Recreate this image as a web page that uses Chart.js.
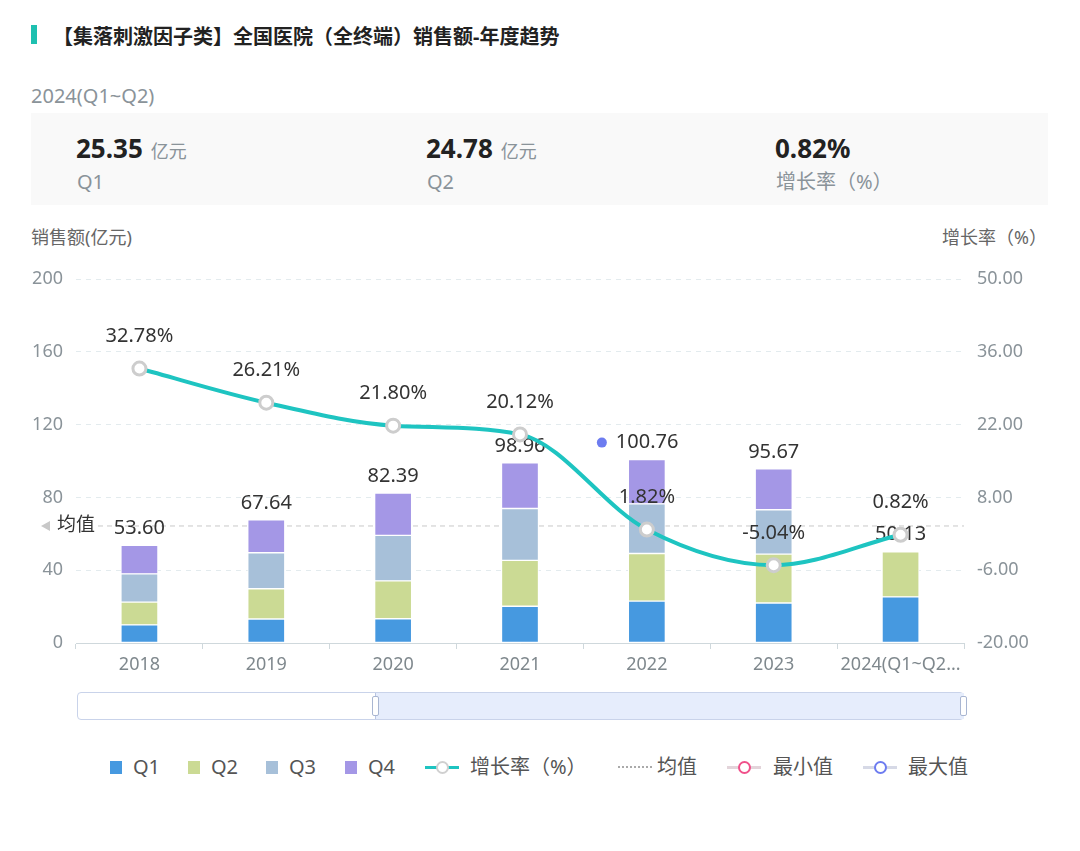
<!DOCTYPE html>
<html>
<head>
<meta charset="utf-8">
<script src="https://cdn.jsdelivr.net/npm/chart.js@4"></script>
<style>
  body { margin: 0; background: #fff; font-family: "Noto Sans", "Noto Sans CJK SC", sans-serif; }
  #page { position: relative; width: 1080px; height: 851px; overflow: hidden; }
  .abs { position: absolute; white-space: nowrap; }
  .grey { color: #8a9399; }
  .big { font-size: 26px; font-weight: bold; color: #222; }
  .unit { font-size: 18px; color: #8a9399; margin-left: 8px; font-weight: normal; }
  .lbl { font-size: 20px; line-height: 26px; color: #8a9399; }
  .lg { position: absolute; top: 754px; height: 26px; line-height: 26px; font-size: 20px; color: #555; white-space: nowrap; }
  .sq { position: absolute; top: 7px; width: 12px; height: 13px; }
  .ln { position: absolute; top: 12px; width: 34px; height: 3px; }
  .dot { position: absolute; top: 7px; left: 11px; width: 9px; height: 9px; border-radius: 50%; background: #fff; border: 2px solid; }
</style>
</head>
<body>
<div id="page">
  <div class="abs" style="left:31px;top:25px;width:6px;height:19px;background:#1ec0b0;"></div>
  <div class="abs" style="left:53px;top:23px;font-size:20px;line-height:28px;font-weight:bold;color:#222;">【集落刺激因子类】全国医院（全终端）销售额-年度趋势</div>
  <div class="abs grey" style="left:31px;top:82px;font-size:20px;line-height:28px;">2024(Q1~Q2)</div>

  <div class="abs" style="left:31px;top:113px;width:1017px;height:92px;background:#f9f9f9;"></div>
  <div class="abs big" style="left:76px;top:130px;line-height:36px;">25.35<span class="unit">亿元</span></div>
  <div class="abs lbl" style="left:77px;top:169px;">Q1</div>
  <div class="abs big" style="left:426px;top:130px;line-height:36px;">24.78<span class="unit">亿元</span></div>
  <div class="abs lbl" style="left:427px;top:169px;">Q2</div>
  <div class="abs big" style="left:775px;top:130px;line-height:36px;">0.82%</div>
  <div class="abs lbl" style="left:776px;top:169px;">增长率（%）</div>

  <div class="abs" style="left:31px;top:224px;font-size:18px;line-height:26px;color:#666;">销售额(亿元)</div>
  <div class="abs" style="right:33px;top:224px;font-size:18px;line-height:26px;color:#666;">增长率（%）</div>

  <canvas id="chart" class="abs" style="left:0;top:250px;" width="1080" height="440"></canvas>

  <!-- zoom slider -->
  <div class="abs" style="left:77px;top:692px;width:885px;height:26px;border:1px solid #c9d3ea;border-radius:4px;background:#fff;"></div>
  <div class="abs" style="left:375px;top:693px;width:588px;height:26px;background:#e6edfc;border-left:1px solid #b9c5e2;"></div>
  <div class="abs" style="left:372px;top:696px;width:5px;height:18px;border:1px solid #a9b6d2;border-radius:2px;background:#fff;"></div>
  <div class="abs" style="left:960px;top:696px;width:5px;height:18px;border:1px solid #a9b6d2;border-radius:2px;background:#fff;"></div>

  <!-- legend -->
  <div class="lg" style="left:110px;"><span class="sq" style="left:0;background:#4699e0;"></span><span style="margin-left:23px;">Q1</span></div>
  <div class="lg" style="left:188px;"><span class="sq" style="left:0;background:#cbda94;"></span><span style="margin-left:23px;">Q2</span></div>
  <div class="lg" style="left:266px;"><span class="sq" style="left:0;background:#a7c0d9;"></span><span style="margin-left:23px;">Q3</span></div>
  <div class="lg" style="left:345px;"><span class="sq" style="left:0;background:#a497e6;"></span><span style="margin-left:23px;">Q4</span></div>
  <div class="lg" style="left:425px;"><span class="ln" style="left:0;background:#1ec4c1;"></span><span class="dot" style="border-color:#d0d0d0;"></span><span style="margin-left:45px;">增长率（%）</span></div>
  <div class="lg" style="left:618px;"><span class="ln" style="left:0;height:0;border-top:2px dotted #aaa;background:none;"></span><span style="margin-left:39px;">均值</span></div>
  <div class="lg" style="left:727px;"><span class="ln" style="left:0;background:#e3d4da;"></span><span class="dot" style="border-color:#f0508a;"></span><span style="margin-left:46px;">最小值</span></div>
  <div class="lg" style="left:863px;"><span class="ln" style="left:0;background:#d6d9e6;"></span><span class="dot" style="border-color:#6d7cf0;"></span><span style="margin-left:45px;">最大值</span></div>
</div>

<script>
// 数据
const labels = ['2018', '2019', '2020', '2021', '2022', '2023', '2024(Q1~Q2)'];
const q1 = [10.0, 13.2, 13.3, 20.2, 23.0, 22.0, 25.35];
const q2 = [12.5, 16.6, 20.8, 25.2, 26.2, 26.8, 24.78];
const q3 = [15.5, 19.8, 25.0, 28.5, 27.2, 24.4, null];
const q4 = [15.6, 18.04, 23.29, 25.06, 24.36, 22.47, null];
const totals = [53.60, 67.64, 82.39, 98.96, 100.76, 95.67, 50.13];
const growth = [32.78, 26.21, 21.80, 20.12, 1.82, -5.04, 0.82];
const avgValue = 64.3; // 均值线
const leftTicks = [0, 40, 80, 120, 160, 200];
const rightTicks = [-20, -6, 8, 22, 36, 50];

const maxIdx = totals.indexOf(Math.max(...totals));
const FONT = '"Noto Sans", "Noto Sans CJK SC", sans-serif';

// 均值线 + 数值标签
const labelPlugin = {
    id: 'labels',
    beforeDatasetsDraw(chart) {
        const ctx = chart.ctx;
        const area = chart.chartArea;
        const y = chart.scales.y.getPixelForValue(avgValue);
        ctx.save();
        ctx.strokeStyle = '#c8c8c8';
        ctx.lineWidth = 1;
        ctx.setLineDash([5, 4]);
        ctx.beginPath();
        ctx.moveTo(98, y);
        ctx.lineTo(area.right, y);
        ctx.stroke();
        ctx.setLineDash([]);
        ctx.fillStyle = '#c8c8c8';
        ctx.beginPath();
        ctx.moveTo(41, y);
        ctx.lineTo(50, y - 5);
        ctx.lineTo(50, y + 5);
        ctx.closePath();
        ctx.fill();
        ctx.fillStyle = '#333';
        ctx.font = '19px ' + FONT;
        ctx.textBaseline = 'middle';
        ctx.textAlign = 'left';
        ctx.fillText('均值', 57, y);
        ctx.restore();
    },
    beforeDatasetDraw(chart, args) {
        if (args.index !== 4) return;
        const ctx = chart.ctx;
        const xs = chart.scales.x, ys = chart.scales.y, yr = chart.scales.y1;
        ctx.save();
        ctx.font = '20px ' + FONT;
        ctx.fillStyle = '#333';
        ctx.textBaseline = 'middle';
        totals.forEach((v, i) => {
            const cx = xs.getPixelForValue(i);
            const cy = ys.getPixelForValue(v) - 17;
            if (i === maxIdx) {
                ctx.fillStyle = '#6d7cf0';
                ctx.beginPath();
                ctx.arc(cx - 45, cy, 5, 0, Math.PI * 2);
                ctx.fill();
                ctx.fillStyle = '#333';
                ctx.textAlign = 'left';
                ctx.fillText(v.toFixed(2), cx - 31, cy);
            } else {
                ctx.textAlign = 'center';
                ctx.fillText(v.toFixed(2), cx, cy);
            }
        });
        ctx.textAlign = 'center';
        growth.forEach((v, i) => {
            const cx = xs.getPixelForValue(i);
            const cy = yr.getPixelForValue(v) - 32;
            ctx.fillText(v.toFixed(2) + '%', cx, cy);
        });
        ctx.restore();
    }
};

const barBase = { type: 'bar', stack: 's', yAxisID: 'y', order: 1, barThickness: 37, borderColor: '#fff', borderWidth: 1, borderSkipped: false };

const ctx = document.getElementById('chart').getContext('2d');
const chart = new Chart(ctx, {
    data: {
        labels: labels,
        datasets: [
            Object.assign({ label: 'Q1', data: q1, backgroundColor: '#4699e0' }, barBase),
            Object.assign({ label: 'Q2', data: q2, backgroundColor: '#cbda94' }, barBase),
            Object.assign({ label: 'Q3', data: q3, backgroundColor: '#a7c0d9' }, barBase),
            Object.assign({ label: 'Q4', data: q4, backgroundColor: '#a497e6' }, barBase),
            {
                type: 'line',
                label: '增长率（%）',
                data: growth,
                yAxisID: 'y1',
                order: 0,
                borderColor: '#1ec4c1',
                borderWidth: 4,
                cubicInterpolationMode: 'monotone',
                pointRadius: 6.5,
                pointBorderWidth: 3,
                pointBorderColor: '#cdcdcd',
                pointBackgroundColor: '#fff'
            }
        ]
    },
    options: {
        responsive: false,
        animation: false,
        layout: { padding: { top: 29 } },
        plugins: {
            legend: { display: false },
            tooltip: { enabled: false }
        },
        scales: {
            x: {
                stacked: true,
                afterFit(s) { s.height = 47; },
                grid: { display: true, drawOnChartArea: false, drawTicks: true, tickLength: 6, color: '#cfd8dc' },
                border: { color: '#cfd8dc' },
                ticks: {
                    color: '#7f888d',
                    font: { size: 18, family: FONT },
                    padding: 5,
                    maxRotation: 0,
                    autoSkip: false,
                    callback(v) {
                        const l = this.getLabelForValue(v);
                        return l.length > 10 ? l.slice(0, 10) + '...' : l;
                    }
                }
            },
            y: {
                stacked: true,
                position: 'left',
                min: leftTicks[0],
                max: leftTicks[leftTicks.length - 1],
                afterFit(s) { s.width = 76; },
                afterBuildTicks(s) { s.ticks = leftTicks.map(v => ({ value: v })); },
                grid: { color: '#e3ebee', drawTicks: false },
                border: { display: false, dash: [5, 5] },
                ticks: { color: '#8a9399', font: { size: 18, family: FONT }, padding: 13 }
            },
            y1: {
                position: 'right',
                min: rightTicks[0],
                max: rightTicks[rightTicks.length - 1],
                afterFit(s) { s.width = 116; },
                afterBuildTicks(s) { s.ticks = rightTicks.map(v => ({ value: v })); },
                grid: { display: false, drawTicks: false },
                border: { display: false },
                ticks: {
                    color: '#8a9399',
                    font: { size: 18, family: FONT },
                    padding: 13,
                    callback: v => Number(v).toFixed(2)
                }
            }
        }
    },
    plugins: [labelPlugin]
});
</script>
</body>
</html>
